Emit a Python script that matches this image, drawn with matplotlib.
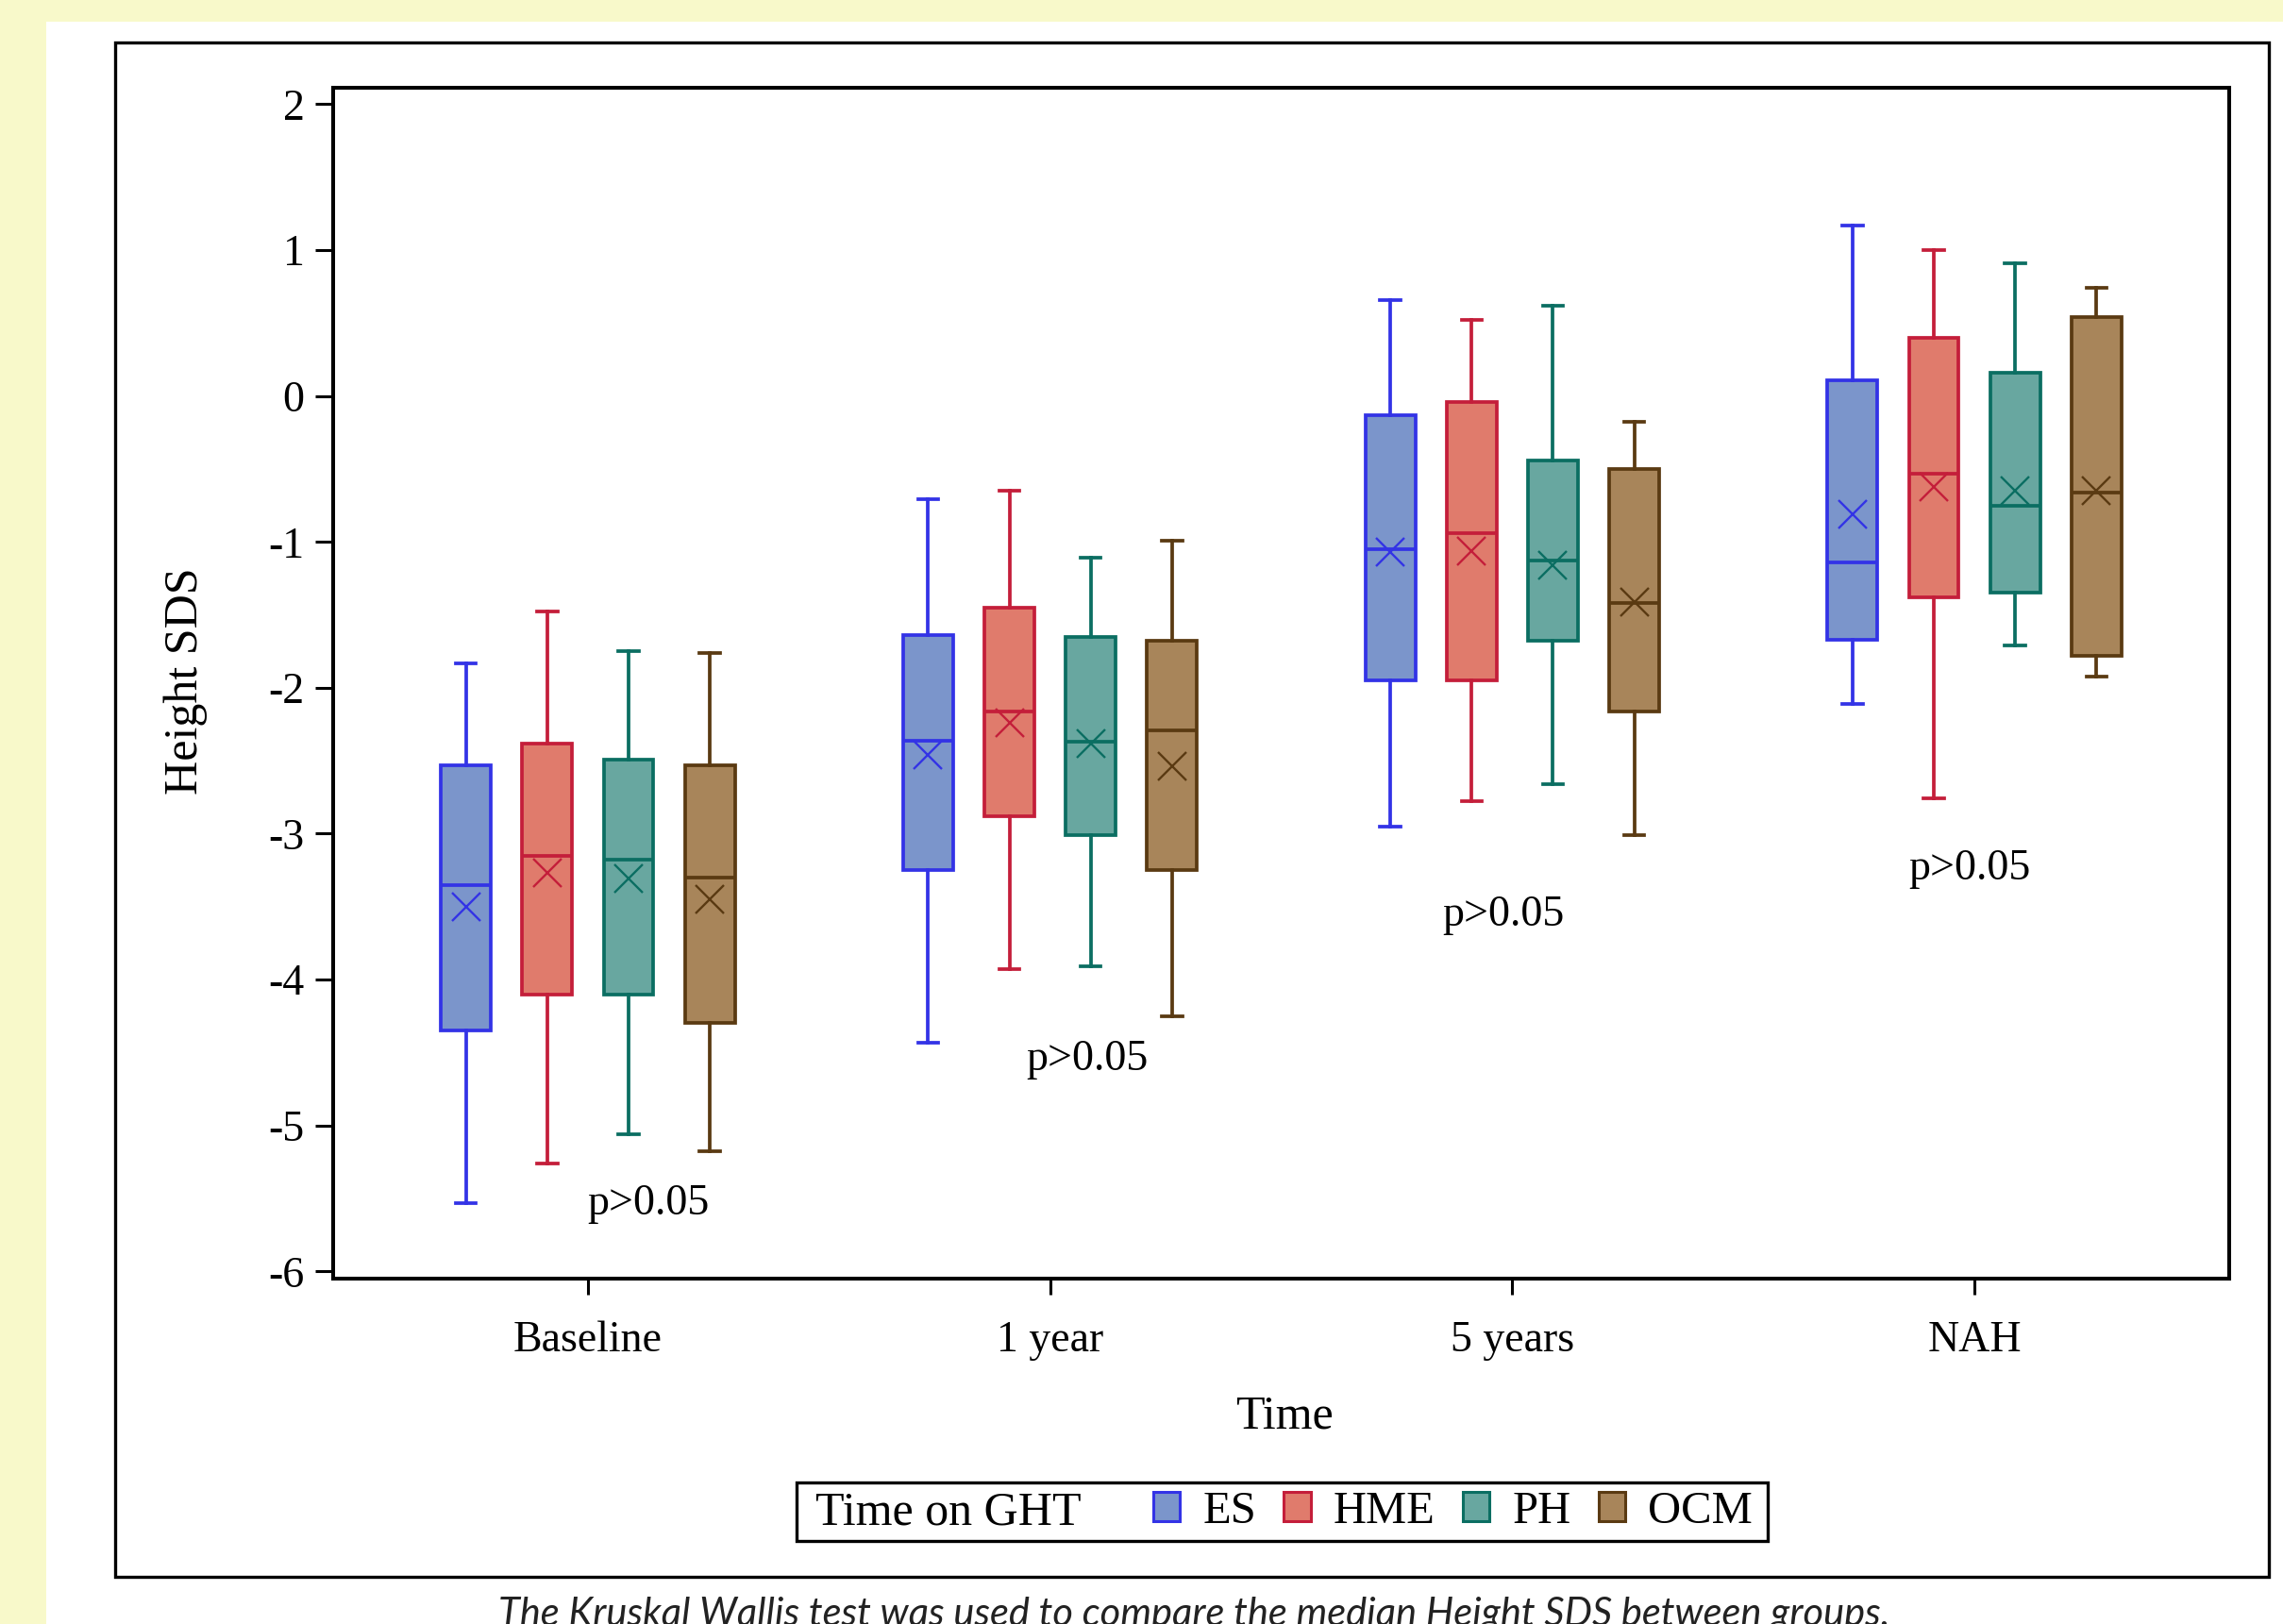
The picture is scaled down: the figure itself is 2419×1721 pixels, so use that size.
import numpy as np
import matplotlib
matplotlib.use("Agg")
import matplotlib.pyplot as plt
from matplotlib.patches import Rectangle, Patch

# ----- data -----
times = ["Baseline", "1 year", "5 years", "NAH"]
groups = ["ES", "HME", "PH", "OCM"]

# one row per time point, one column per group
whis_hi = [[-1.83, -1.48, -1.75, -1.76],
           [-0.71, -0.65, -1.11, -0.99],
           [0.66, 0.52, 0.62, -0.18],
           [1.17, 1.00, 0.91, 0.74]]
q3 = [[-2.53, -2.38, -2.49, -2.53],
      [-1.64, -1.45, -1.65, -1.68],
      [-0.13, -0.04, -0.44, -0.50],
      [0.11, 0.40, 0.16, 0.54]]
median = [[-3.35, -3.15, -3.18, -3.30],
          [-2.36, -2.16, -2.37, -2.29],
          [-1.05, -0.94, -1.13, -1.42],
          [-1.14, -0.53, -0.75, -0.66]]
mean = [[-3.50, -3.27, -3.31, -3.45],
        [-2.46, -2.24, -2.38, -2.54],
        [-1.07, -1.06, -1.16, -1.41],
        [-0.81, -0.62, -0.65, -0.65]]
q1 = [[-4.35, -4.10, -4.10, -4.30],
      [-3.25, -2.88, -3.01, -3.25],
      [-1.95, -1.95, -1.68, -2.16],
      [-1.67, -1.38, -1.35, -1.78]]
whis_lo = [[-5.53, -5.26, -5.06, -5.18],
           [-4.43, -3.93, -3.91, -4.25],
           [-2.95, -2.78, -2.66, -3.01],
           [-2.11, -2.76, -1.71, -1.92]]

p_labels = ["p>0.05", "p>0.05", "p>0.05", "p>0.05"]
p_x = [0.13, 1.08, 1.98, 2.99]
p_y = [-5.54, -4.55, -3.56, -3.24]

fills = ["#7B95CB", "#E07B6C", "#68A7A0", "#A8855A"]
edges = ["#3333E6", "#C41E3A", "#0B6E62", "#5A3A12"]
offsets = [-0.264, -0.088, 0.088, 0.264]

W, H = 2419, 1721
plt.rcParams['font.family'] = ['Liberation Serif', 'DejaVu Serif']

fig = plt.figure(figsize=(W / 100, H / 100), dpi=100)
fig.patch.set_facecolor("#F8F9CA")
# white page and the outer frame
fig.add_artist(Rectangle((49 / W, 0), 1, 1 - 23 / H, transform=fig.transFigure,
                         facecolor="white", edgecolor="none", zorder=-10))
fig.add_artist(Rectangle((122 / W, 1 - 1671 / H), (2404 - 122) / W, (1671 - 45) / H,
                         transform=fig.transFigure, fill=False, lw=2.4,
                         edgecolor="black", zorder=-5))

ax = fig.add_axes([353 / W, 1 - 1355 / H, (2362 - 353) / W, (1355 - 93) / H])

for g in range(len(groups)):
    stats = []
    for t in range(len(times)):
        stats.append(dict(med=median[t][g], q1=q1[t][g], q3=q3[t][g],
                          whislo=whis_lo[t][g], whishi=whis_hi[t][g],
                          mean=mean[t][g], fliers=[]))
    pos = [t + offsets[g] for t in range(len(times))]
    ax.bxp(stats, positions=pos, widths=0.108, patch_artist=True,
           showmeans=True, manage_ticks=False,
           boxprops=dict(facecolor=fills[g], edgecolor=edges[g], linewidth=2.7),
           medianprops=dict(color=edges[g], linewidth=2.7),
           whiskerprops=dict(color=edges[g], linewidth=2.7),
           capprops=dict(color=edges[g], linewidth=2.7),
           capwidths=0.044,
           meanprops=dict(marker="x", markersize=22, markeredgewidth=1.7,
                          markeredgecolor=edges[g]))

for x, y, s in zip(p_x, p_y, p_labels):
    ax.text(x, y, s, ha="center", va="center", fontsize=33)

ax.set_xlim(-0.551, 3.551)
ax.set_ylim(-6.05, 2.113)
ax.set_yticks(range(-6, 3))
ax.set_yticklabels([str(v) for v in range(-6, 3)])
ax.set_xticks(range(len(times)))
ax.set_xticklabels(times)
ax.tick_params(axis="y", labelsize=33, length=14, width=2.2, pad=8)
ax.tick_params(axis="x", labelsize=33, length=12, width=2.2, pad=20)
for sp in ax.spines.values():
    sp.set_linewidth(2.9)

fig.text(197 / W, 1 - 722 / H, "Height SDS", rotation=90, ha="center",
         va="center", fontsize=36)
fig.text(1361 / W, 1 - 1501 / H, "Time", ha="center", va="center", fontsize=36)

# legend box
fig.add_artist(Rectangle((844 / W, 1 - 1633 / H), (1873 - 844) / W, (1633 - 1571) / H,
                         transform=fig.transFigure, fill=False, lw=2.4,
                         edgecolor="black"))
fig.text(864 / W, 1 - 1603 / H, "Time on GHT", ha="left", va="center", fontsize=36)
handles = [Patch(facecolor=f, edgecolor=e, linewidth=2.2) for f, e in zip(fills, edges)]
fig.legend(handles, groups, loc="center left", bbox_to_anchor=(1222 / W, 1 - 1602 / H),
           ncol=4, frameon=False, fontsize=35, handlelength=0.58, handleheight=0.6,
           handletextpad=0.5, columnspacing=0.6, borderpad=0, borderaxespad=0)

fig.text(1265 / W, 1 - 1692 / H,
         "The Kruskal Wallis test was used to compare the median Height SDS between groups.",
         ha="center", va="top", fontsize=30, style="italic",
         family=["Lato", "DejaVu Sans"], color="#222222")

fig.savefig("out.png", dpi=100, facecolor=fig.get_facecolor())
